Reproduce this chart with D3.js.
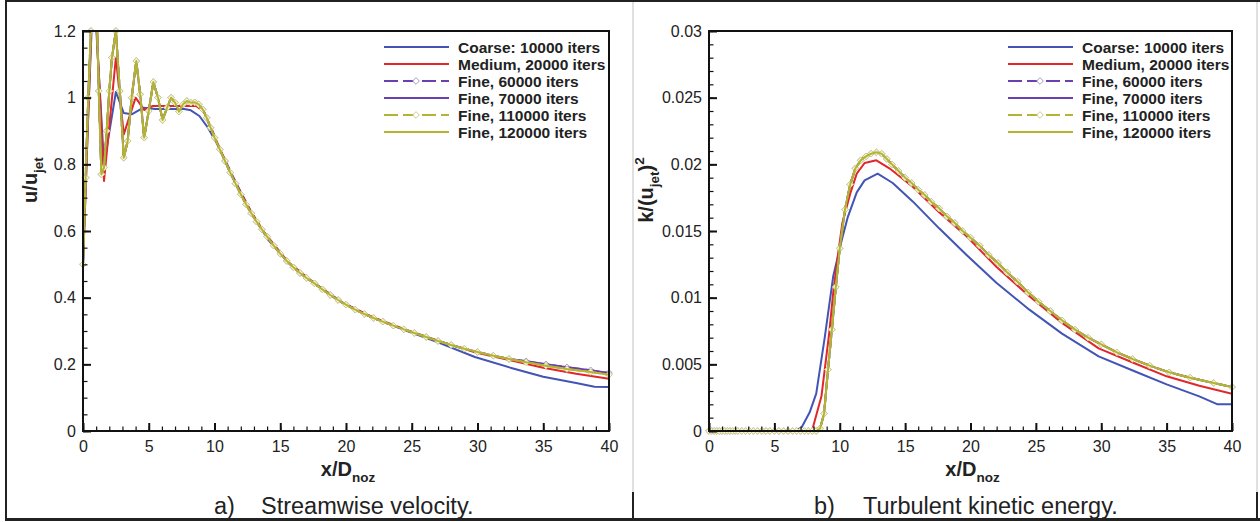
<!DOCTYPE html>
<html>
<head>
<meta charset="utf-8">
<script src="https://cdn.jsdelivr.net/npm/d3@7"></script>
<style>
body { margin: 0; background: #fff; }
svg { display: block; font-family: "Liberation Sans", Arial, sans-serif; }
</style>
</head>
<body>
<svg id="chart" width="1260" height="522"></svg>
<script>
// ---- data ----
const seriesNames = ['Coarse: 10000 iters', 'Medium, 20000 iters', 'Fine, 60000 iters',
                     'Fine, 70000 iters', 'Fine, 110000 iters', 'Fine, 120000 iters'];

const xTicks = [0, 5, 10, 15, 20, 25, 30, 35, 40];
const uTicks = [0, 0.2, 0.4, 0.6, 0.8, 1, 1.2];
const kTicks = [0, 0.005, 0.01, 0.015, 0.02, 0.025, 0.03];

// coarse grid run
const xCoarse = [0, 0.4, 0.8, 1.6, 2.5, 3.1, 3.7, 4.6, 5.5, 6.6, 7.1, 7.7, 8.2, 8.85, 9.5, 10.15, 10.6,
                 11.3, 11.9, 12.9, 14.05, 15.6, 17.6, 19.7, 22.0, 24.5, 27.0, 29.8, 32.5, 35.0, 37.5, 38.9, 40];
const uCoarse = [0.5, 0.95, 1.35, 0.80, 1.017, 0.954, 0.95, 0.97, 0.966, 0.966, 0.966, 0.966, 0.962, 0.945, 0.91,
                 0.865, 0.83, 0.772, 0.725, 0.648, 0.575, 0.505, 0.443, 0.386, 0.34, 0.302, 0.266, 0.222, 0.19,
                 0.163, 0.144, 0.133, 0.132];
const kCoarse = [0, 0, 0, 0, 0, 0, 0, 0, 0, 0, 0.0003, 0.0014, 0.0028, 0.0070, 0.0116, 0.0143, 0.0160, 0.0179,
                 0.0188, 0.0193, 0.0186, 0.0172, 0.0152, 0.0132, 0.0111, 0.0091, 0.0073, 0.0056, 0.0045, 0.0035,
                 0.0026, 0.0020, 0.0020];

// medium grid run
const xMedium = [0, 0.4, 0.8, 1.6, 2.5, 3.1, 4.0, 4.65, 5.3, 6.2, 7.2, 7.9, 8.6, 9.2, 9.5, 9.85, 10.2, 10.8,
                 11.3, 11.9, 12.8, 13.8, 15.6, 17.6, 19.7, 22.0, 24.5, 27.0, 29.8, 32.5, 35.0, 37.5, 40];
const uMedium = [0.5, 0.95, 1.4, 0.75, 1.12, 0.89, 1.0, 0.963, 0.975, 0.975, 0.975, 0.975, 0.975, 0.958, 0.93,
                 0.9, 0.866, 0.812, 0.768, 0.722, 0.657, 0.595, 0.507, 0.443, 0.386, 0.342, 0.305, 0.271, 0.236,
                 0.212, 0.19, 0.172, 0.157];
const kMedium = [0, 0, 0, 0, 0, 0, 0, 0, 0, 0, 0, 0.0001, 0.0026, 0.0074, 0.0104, 0.0131, 0.0156, 0.0178,
                 0.0193, 0.0201, 0.0203, 0.0197, 0.0183, 0.0164, 0.0146, 0.0123, 0.0101, 0.0081, 0.0062, 0.0051,
                 0.0041, 0.0034, 0.0028];

// fine grid runs (mesh points carry the markers)
const xFine = [0, 0.2, 0.4, 0.6, 0.8, 1.0, 1.2, 1.4, 1.6, 1.8, 2.0, 2.2, 2.5, 2.8, 3.1, 3.4, 3.7, 4.05, 4.35,
               4.65, 5.0, 5.35, 5.7, 6.05, 6.4, 6.7, 7.0, 7.3, 7.6, 7.9, 8.2, 8.5, 8.8, 9.1, 9.4, 9.7, 10.0,
               10.4, 10.8, 11.2, 11.6, 12.0, 12.4, 12.8, 13.2, 13.6, 14.0, 14.5, 15.0, 15.5, 16.0, 16.5, 17.0,
               17.6, 18.2, 18.8, 19.4, 20.0, 20.7, 21.4, 22.1, 22.8, 23.6, 24.4, 25.2, 26.1, 27.0, 28.0, 29.0,
               30.0, 31.2, 32.4, 33.7, 35.2, 36.8, 38.6, 40];
const uFine = [0.5, 0.76, 1.0, 1.2, 1.36, 1.32, 1.02, 0.77, 0.79, 0.9, 1.02, 1.12, 1.2, 1.02, 0.82, 0.87, 1.0,
               1.11, 1.01, 0.88, 0.96, 1.047, 1.0, 0.933, 0.97, 1.0, 0.985, 0.958, 0.98, 0.99, 0.985, 0.986,
               0.98, 0.965, 0.94, 0.91, 0.88, 0.845, 0.81, 0.775, 0.742, 0.71, 0.68, 0.653, 0.628, 0.605, 0.583,
               0.556, 0.532, 0.51, 0.491, 0.474, 0.459, 0.443, 0.425, 0.408, 0.393, 0.379, 0.364, 0.351, 0.339,
               0.328, 0.316, 0.305, 0.294, 0.282, 0.27, 0.258, 0.247, 0.237, 0.226, 0.216, 0.206, 0.196, 0.186,
               0.177, 0.169];
// 60000 / 70000 iters sit a touch higher at the far end
const uFineEarlyTail = [0.209, 0.2, 0.191, 0.182, 0.174];
const kFine = [0, 0, 0, 0, 0, 0, 0, 0, 0, 0, 0, 0, 0, 0, 0, 0, 0, 0, 0, 0, 0, 0, 0, 0, 0, 0, 0, 0, 0, 0, 0,
               0.0002, 0.0013, 0.0046, 0.0076, 0.0108, 0.0137, 0.0166, 0.0185, 0.0197, 0.0203, 0.0206, 0.0208,
               0.0209, 0.0208, 0.0204, 0.0200, 0.0195, 0.0190, 0.0186, 0.0181, 0.0177, 0.0172, 0.0167, 0.0161,
               0.0156, 0.0150, 0.0145, 0.0139, 0.0132, 0.0126, 0.0119, 0.0112, 0.0104, 0.0097, 0.0090, 0.0083,
               0.0076, 0.0070, 0.0065, 0.0059, 0.0054, 0.0049, 0.0044, 0.0040, 0.0036, 0.0033];
const uFineEarly = uFine.slice(0, uFine.length - uFineEarlyTail.length).concat(uFineEarlyTail);

// ---- styles ----
const colors = ['#4254b4', '#e2262a', '#6a40b0', '#6a40b0', '#b4b432', '#b4b432'];
const dashed = [false, false, true, false, true, false];
const marked = [false, false, true, false, true, false];
const markFill = ['', '', '#ffffff', '', '#f6f6d8', ''];
const markStroke = ['', '', '#a898cc', '', '#cdcd8a', ''];

const series = [
  { x: xCoarse, u: uCoarse, k: kCoarse },
  { x: xMedium, u: uMedium, k: kMedium },
  { x: xFine, u: uFineEarly, k: kFine },
  { x: xFine, u: uFineEarly, k: kFine },
  { x: xFine, u: uFine, k: kFine },
  { x: xFine, u: uFine, k: kFine }
];

const svg = d3.select('#chart');
svg.append('rect').attr('width', 1260).attr('height', 522).attr('fill', '#fff');

// page frame (figure sits in a two-cell table)
svg.append('line').attr('x1', 633).attr('x2', 633).attr('y1', 1).attr('y2', 492).attr('stroke', '#d6d6d6').attr('stroke-width', 1.5);
svg.append('line').attr('x1', 1257).attr('x2', 1257).attr('y1', 1).attr('y2', 492).attr('stroke', '#d6d6d6').attr('stroke-width', 1.5);
svg.append('line').attr('x1', 633).attr('x2', 633).attr('y1', 492).attr('y2', 519).attr('stroke', '#222').attr('stroke-width', 2);
svg.append('line').attr('x1', 1257).attr('x2', 1257).attr('y1', 492).attr('y2', 519).attr('stroke', '#222').attr('stroke-width', 2);
svg.append('line').attr('x1', 6).attr('x2', 6).attr('y1', 0).attr('y2', 520).attr('stroke', '#222').attr('stroke-width', 2);
svg.append('line').attr('x1', 5).attr('x2', 1260).attr('y1', 1).attr('y2', 1).attr('stroke', '#222').attr('stroke-width', 2);
svg.append('line').attr('x1', 5).attr('x2', 1260).attr('y1', 519.5).attr('y2', 519.5).attr('stroke', '#222').attr('stroke-width', 3);

const panels = [
  { key: 'u', left: 83, right: 609, top: 31, bottom: 431, yMax: 1.2, yTicks: uTicks, minorStep: 0.05,
    legendX: 384, titleX: 37, titleY: 180, caption: ['a)', 'Streamwise velocity.'], capX: [214, 261] },
  { key: 'k', left: 709, right: 1232, top: 31, bottom: 431, yMax: 0.03, yTicks: kTicks, minorStep: 0.001,
    legendX: 1008, titleX: 653, titleY: 190, caption: ['b)', 'Turbulent kinetic energy.'], capX: [814, 863] }
];

const fmt = d => String(+d.toFixed(4));
const marker = d3.symbol().type(d3.symbolDiamond2).size(28);

panels.forEach((p, pi) => {
  const x = d3.scaleLinear().domain([0, 40]).range([p.left, p.right]);
  const y = d3.scaleLinear().domain([0, p.yMax]).range([p.bottom, p.top]);

  const clipId = 'clip' + pi;
  svg.append('clipPath').attr('id', clipId)
    .append('rect').attr('x', p.left).attr('y', p.top)
    .attr('width', p.right - p.left).attr('height', p.bottom - p.top + 2);

  const plot = svg.append('g');
  const line = d3.line().x(d => x(d[0])).y(d => y(d[1]));

  series.forEach((s, i) => {
    const pts = s.x.map((xv, j) => [xv, s[p.key][j]]);
    plot.append('path')
      .datum(pts)
      .attr('clip-path', `url(#${clipId})`)
      .attr('d', line)
      .attr('fill', 'none')
      .attr('stroke', colors[i])
      .attr('stroke-width', 2)
      .attr('stroke-dasharray', dashed[i] ? '14 5' : null)
      .attr('stroke-linejoin', 'round');
    if (marked[i]) {
      plot.append('g').selectAll('path')
        .data(pts.filter(d => d[1] <= p.yMax))
        .join('path')
        .attr('transform', d => `translate(${x(d[0])},${y(d[1])})`)
        .attr('d', marker)
        .attr('fill', markFill[i])
        .attr('stroke', markStroke[i])
        .attr('stroke-width', 1);
    }
  });

  // minor ticks
  const minorY = d3.range(0, Math.round(p.yMax / p.minorStep) + 1).map(i => i * p.minorStep);
  svg.append('g').attr('transform', `translate(${p.left},0)`)
    .call(d3.axisLeft(y).tickValues(minorY).tickSize(-4.5).tickFormat(''))
    .call(g => g.select('.domain').remove())
    .call(g => g.selectAll('line').attr('stroke', '#111').attr('stroke-width', 1.2));
  svg.append('g').attr('transform', `translate(0,${p.bottom})`)
    .call(d3.axisBottom(x).tickValues(d3.range(0, 41)).tickSize(-4.5).tickFormat(''))
    .call(g => g.select('.domain').remove())
    .call(g => g.selectAll('line').attr('stroke', '#111').attr('stroke-width', 1.2));

  // major ticks + labels
  svg.append('g').attr('transform', `translate(${p.left},0)`)
    .call(d3.axisLeft(y).tickValues(p.yTicks).tickSize(-8).tickPadding(7).tickFormat(fmt))
    .call(g => g.select('.domain').remove())
    .call(g => g.selectAll('line').attr('stroke', '#111').attr('stroke-width', 2))
    .attr('font-family', null).attr('font-size', 16)
    .call(g => g.selectAll('text').attr('fill', '#222'));
  svg.append('g').attr('transform', `translate(0,${p.bottom})`)
    .call(d3.axisBottom(x).tickValues(xTicks).tickSize(-8).tickPadding(10))
    .call(g => g.select('.domain').remove())
    .call(g => g.selectAll('line').attr('stroke', '#111').attr('stroke-width', 2))
    .attr('font-family', null).attr('font-size', 16)
    .call(g => g.selectAll('text').attr('fill', '#222'));

  svg.append('rect')
    .attr('x', p.left).attr('y', p.top)
    .attr('width', p.right - p.left).attr('height', p.bottom - p.top)
    .attr('fill', 'none').attr('stroke', '#111').attr('stroke-width', 2);

  // axis titles
  const xt = svg.append('text')
    .attr('x', (p.left + p.right) / 2 + 2).attr('y', 476)
    .attr('text-anchor', 'middle').attr('font-weight', 'bold').attr('font-size', 20).attr('fill', '#222');
  xt.append('tspan').text('x/D');
  xt.append('tspan').attr('font-size', 13.5).attr('dy', 6).text('noz');

  const yt = svg.append('text')
    .attr('transform', `translate(${p.titleX},${p.titleY}) rotate(-90)`)
    .attr('text-anchor', 'middle').attr('font-weight', 'bold').attr('font-size', 20).attr('fill', '#222');
  if (p.key === 'u') {
    yt.append('tspan').text('u/u');
    yt.append('tspan').attr('font-size', 13.5).attr('dy', 6).text('jet');
  } else {
    yt.append('tspan').text('k/(u');
    yt.append('tspan').attr('font-size', 13.5).attr('dy', 6).text('jet');
    yt.append('tspan').attr('dy', -6).text(')');
    yt.append('tspan').attr('font-size', 13.5).attr('dy', -9).text('2');
  }

  // legend
  const leg = svg.append('g');
  seriesNames.forEach((name, i) => {
    const ly = 47 + i * 17;
    leg.append('line')
      .attr('x1', p.legendX).attr('x2', p.legendX + 65).attr('y1', ly).attr('y2', ly)
      .attr('stroke', colors[i]).attr('stroke-width', 2)
      .attr('stroke-dasharray', dashed[i] ? '14 5' : null);
    if (marked[i]) {
      leg.append('path')
        .attr('transform', `translate(${p.legendX + 32},${ly})`)
        .attr('d', marker).attr('fill', '#fff').attr('stroke', markStroke[i]).attr('stroke-width', 1);
    }
    leg.append('text')
      .attr('x', p.legendX + 74).attr('y', ly + 5.5)
      .attr('font-weight', 'bold').attr('font-size', 15.5).attr('fill', '#222')
      .text(name);
  });

  // caption under each panel
  svg.append('text').attr('x', p.capX[0]).attr('y', 514).attr('font-size', 23.5).attr('fill', '#222').text(p.caption[0]);
  svg.append('text').attr('x', p.capX[1]).attr('y', 514).attr('font-size', 23.5).attr('fill', '#222').text(p.caption[1]);
});
</script>
</body>
</html>
